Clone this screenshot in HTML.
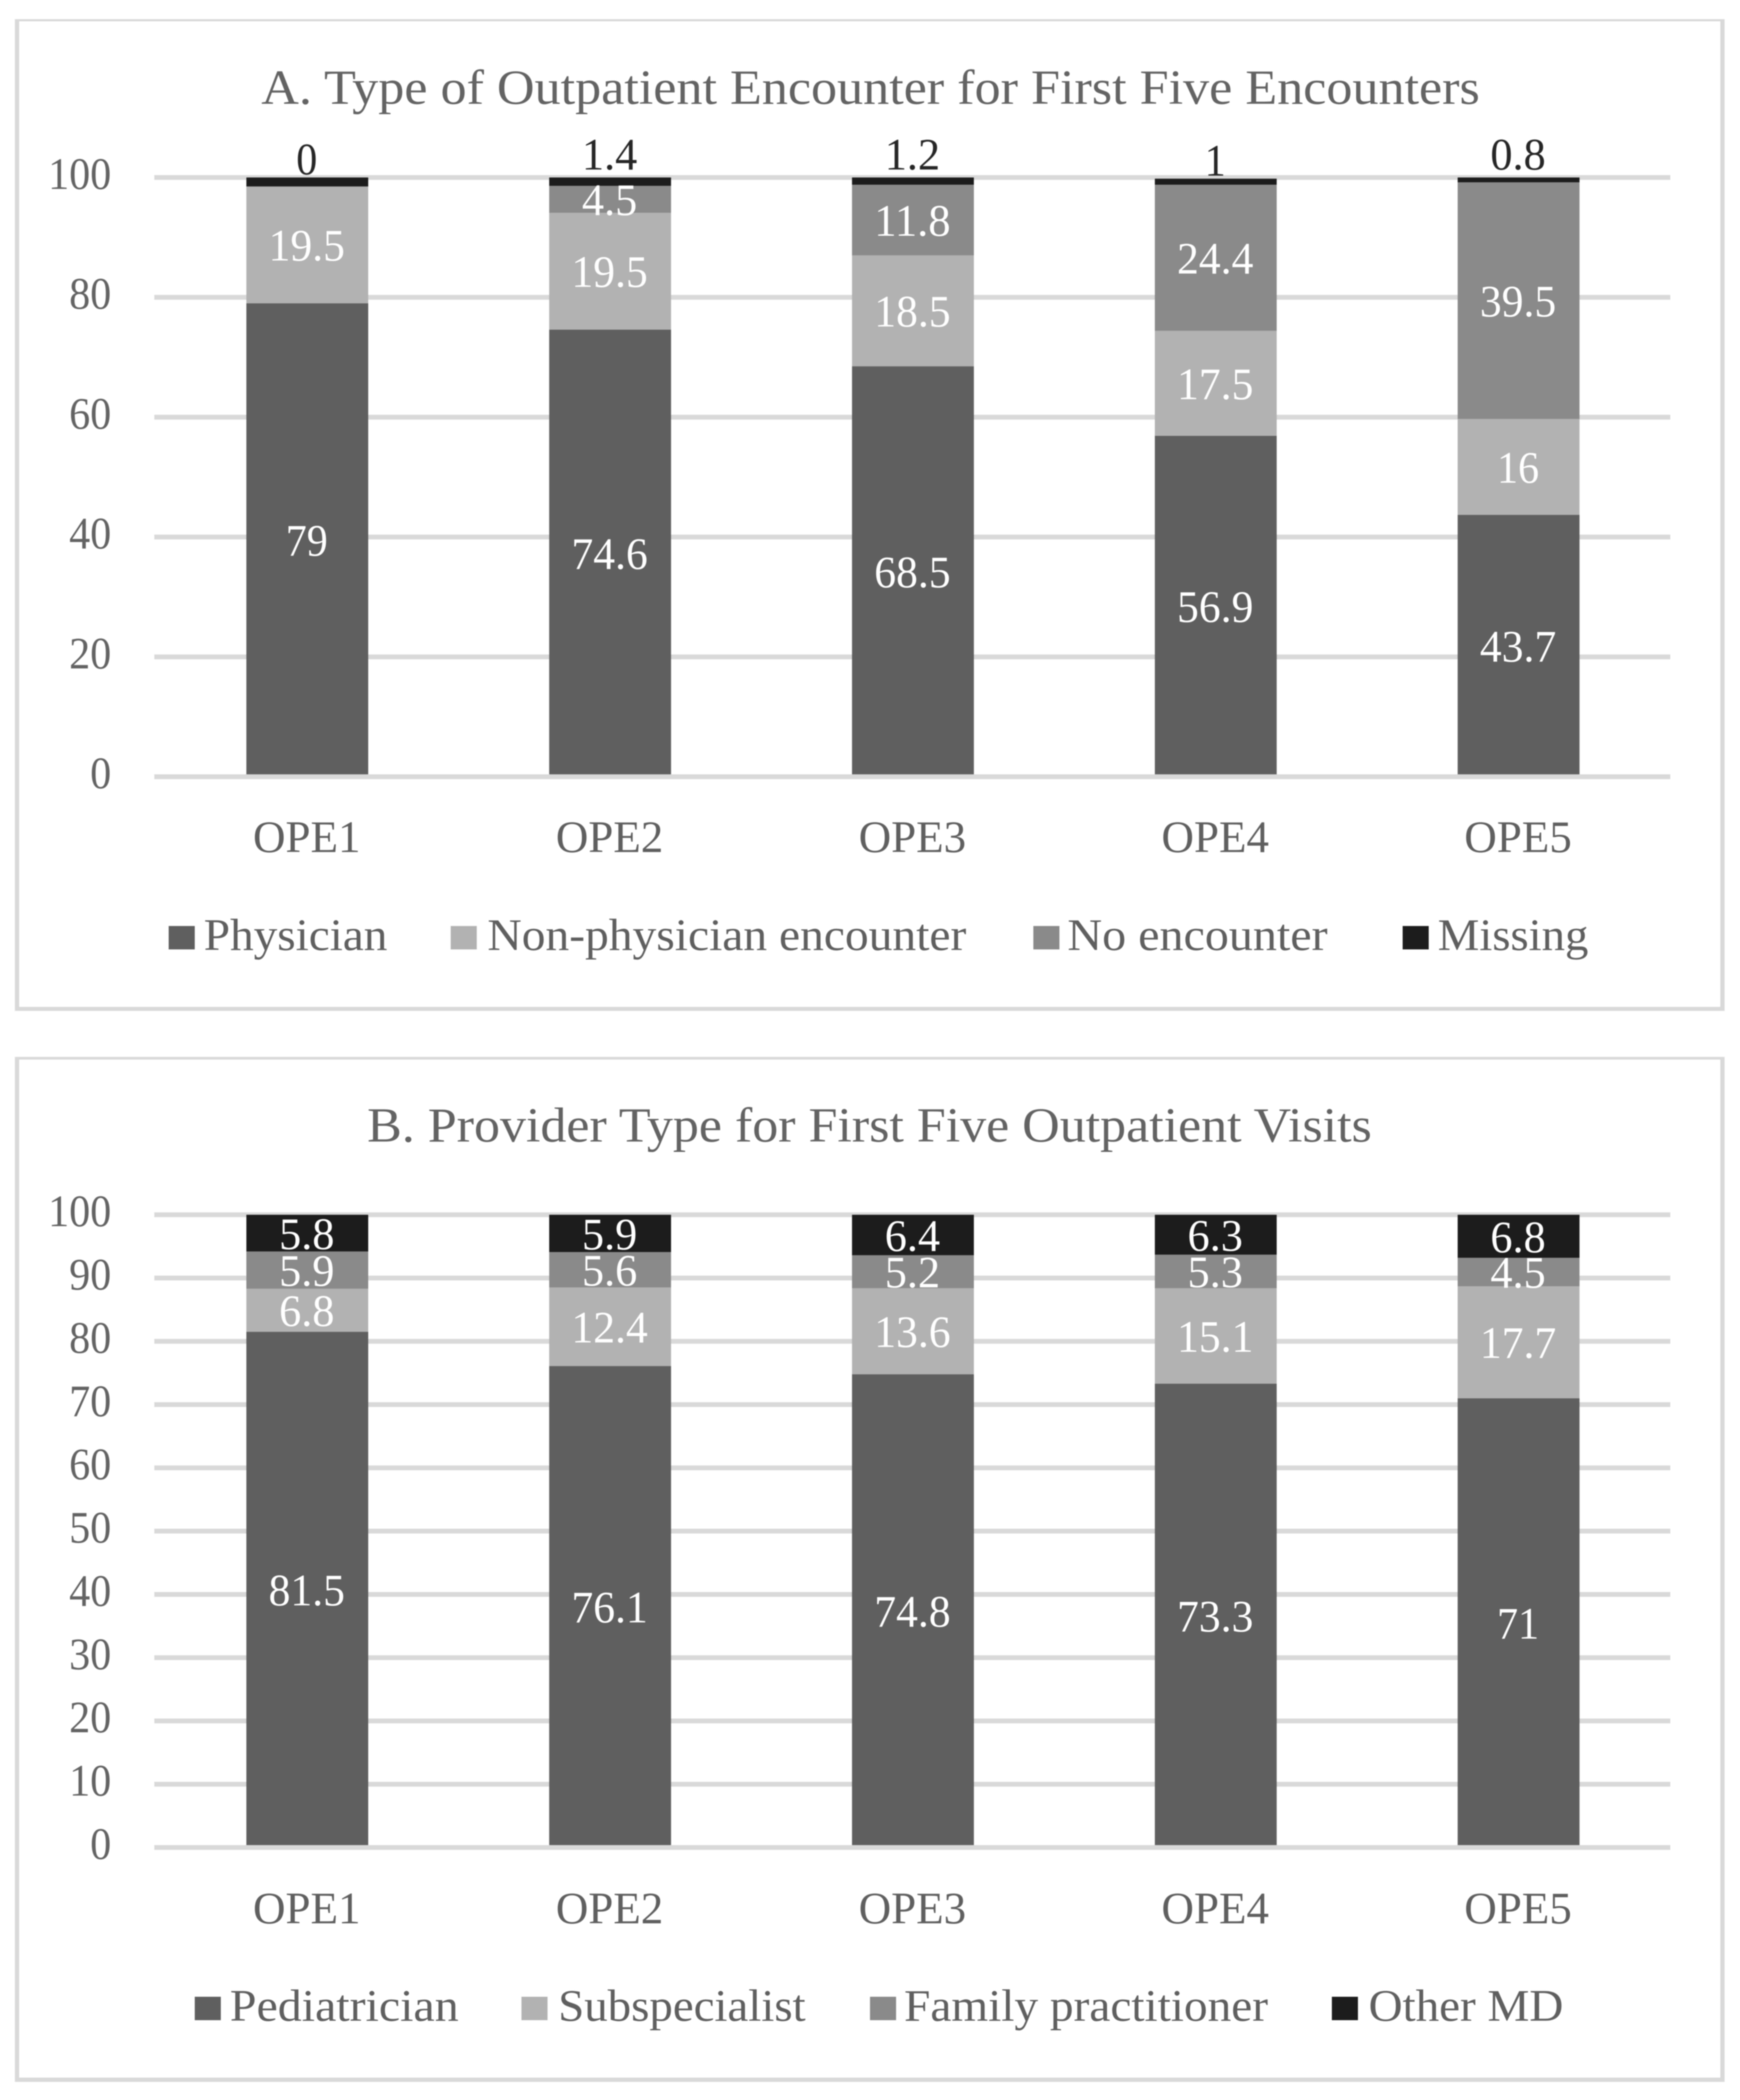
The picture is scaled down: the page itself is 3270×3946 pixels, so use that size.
<!DOCTYPE html>
<html lang="en">
<head>
<meta charset="utf-8">
<title>Outpatient Encounters Charts</title>
<style>
html,body{margin:0;padding:0;background:#fff;width:3270px;height:3946px;overflow:hidden}
svg{display:block;filter:blur(1px)}
text{font-family:"Liberation Serif",serif;font-size:85px;fill:#5f5f5f}
.title{font-size:92px;fill:#636363}
</style>
</head>
<body>
<svg id="root" xmlns="http://www.w3.org/2000/svg" width="3270" height="3946" viewBox="0 0 3270 3946">
  <rect x="0" y="0" width="3270" height="3946" fill="#ffffff"/>
  <g>
    <path fill="#d9d9d9" fill-rule="evenodd" d="M28 36H3241V1899.5H28ZM36 40V1892H3233V40Z"/>
    <text class="title" x="491" y="195" textLength="2290" lengthAdjust="spacingAndGlyphs">A. Type of Outpatient Encounter for First Five Encounters</text>
    <g id="plotA"></g>
    <g>
      <rect x="317" y="1740" width="49" height="44" fill="#5f5f5f"/>
      <text x="383" y="1785" textLength="345" lengthAdjust="spacingAndGlyphs">Physician</text>
      <rect x="847" y="1740" width="49" height="44" fill="#b2b2b2"/>
      <text x="916" y="1785" textLength="900" lengthAdjust="spacingAndGlyphs">Non-physician encounter</text>
      <rect x="1942" y="1740" width="49" height="44" fill="#8a8a8a"/>
      <text x="2006" y="1785" textLength="489" lengthAdjust="spacingAndGlyphs">No encounter</text>
      <rect x="2636" y="1740" width="49" height="44" fill="#1c1c1c"/>
      <text x="2702" y="1785" textLength="283" lengthAdjust="spacingAndGlyphs">Missing</text>
    </g>
  </g>
  <g>
    <path fill="#d9d9d9" fill-rule="evenodd" d="M28 1986H3241V3912H28ZM36 1991V3904H3233V1991Z"/>
    <text class="title" x="690" y="2145" textLength="1888" lengthAdjust="spacingAndGlyphs">B. Provider Type for First Five Outpatient Visits</text>
    <g id="plotB"></g>
    <g>
      <rect x="366" y="3752" width="49" height="44" fill="#5f5f5f"/>
      <text x="432" y="3797" textLength="430" lengthAdjust="spacingAndGlyphs">Pediatrician</text>
      <rect x="980" y="3752" width="49" height="44" fill="#b2b2b2"/>
      <text x="1049" y="3797" textLength="465" lengthAdjust="spacingAndGlyphs">Subspecialist</text>
      <rect x="1635" y="3752" width="49" height="44" fill="#8a8a8a"/>
      <text x="1699" y="3797" textLength="684" lengthAdjust="spacingAndGlyphs">Family practitioner</text>
      <rect x="2503" y="3752" width="49" height="44" fill="#1c1c1c"/>
      <text x="2572" y="3797" textLength="366" lengthAdjust="spacingAndGlyphs">Other MD</text>
    </g>
  </g>
</svg>
<script>
const categories = ['OPE1', 'OPE2', 'OPE3', 'OPE4', 'OPE5'];

const physician = [79, 74.6, 68.5, 56.9, 43.7];
const nonPhysician = [19.5, 19.5, 18.5, 17.5, 16];
const noEncounter = [0, 4.5, 11.8, 24.4, 39.5];
const missing = [1.5, 1.4, 1.2, 1, 0.8];
const missingLabels = ['0', '1.4', '1.2', '1', '0.8'];
const yTicksA = [0, 20, 40, 60, 80, 100];

const pediatrician = [81.5, 76.1, 74.8, 73.3, 71];
const subspecialist = [6.8, 12.4, 13.6, 15.1, 17.7];
const familyPractitioner = [5.9, 5.6, 5.2, 5.3, 4.5];
const otherMD = [5.8, 5.9, 6.4, 6.3, 6.8];
const yTicksB = [0, 10, 20, 30, 40, 50, 60, 70, 80, 90, 100];

const NS = 'http://www.w3.org/2000/svg';
const COLORS = ['#5f5f5f', '#b2b2b2', '#8a8a8a', '#1c1c1c'];
const GRID = '#d9d9d9';
const GRID_LEFT = 290, GRID_RIGHT = 3139, BAR_W = 229;

function xCenter(i) { return 577.5 + i * 569.1; }

function labelWidth(s) {
  let w = 0;
  for (const c of String(s)) w += (c === '.') ? 25 : 39.5;
  return w;
}

function mkRect(parent, x, y, w, h, fill) {
  const r = document.createElementNS(NS, 'rect');
  r.setAttribute('x', x);
  r.setAttribute('y', y);
  r.setAttribute('width', w);
  r.setAttribute('height', h);
  r.setAttribute('fill', fill);
  parent.appendChild(r);
  return r;
}

function mkText(parent, str, x, y, anchor, fill, len) {
  const t = document.createElementNS(NS, 'text');
  t.textContent = str;
  t.setAttribute('x', x);
  t.setAttribute('y', y);
  t.setAttribute('text-anchor', anchor);
  t.style.fill = fill;
  t.setAttribute('textLength', len);
  t.setAttribute('lengthAdjust', 'spacingAndGlyphs');
  parent.appendChild(t);
  return t;
}

function drawChart(plot, prefix, y0, y100, ticks, seriesList, seriesNames, xLabelY) {
  const yOf = v => y0 - (y0 - y100) * v / 100;

  ticks.forEach(tick => {
    if (tick === 0) return;
    const g = mkRect(plot, GRID_LEFT, yOf(tick) - 4.5, GRID_RIGHT - GRID_LEFT, 9, GRID);
    
    
  });

  ticks.forEach(tick => {
    const t = mkText(plot, String(tick), 209, yOf(tick) + 21.5, 'end', '#636363', labelWidth(tick));
    
    
  });

  categories.forEach((cat, i) => {
    let base = 0;
    seriesList.forEach((series, s) => {
      const v = series[i];
      const top = yOf(base + v);
      const bar = mkRect(plot, xCenter(i) - BAR_W / 2, top, BAR_W, yOf(base) - top, COLORS[s]);
      
      
      base += v;
    });

    const lab = mkText(plot, cat, xCenter(i) - 1, xLabelY, 'middle', '#5f5f5f', 202);
    
    
  });

  const axis = mkRect(plot, GRID_LEFT, y0 - 4.5, GRID_RIGHT - GRID_LEFT, 9, GRID);
  
  

  categories.forEach((cat, i) => {
    let base = 0;
    seriesList.forEach((series, s) => {
      const v = series[i];
      const insideLabel = prefix === 'chart-b' || s < 3;
      if (insideLabel && v > 0) {
        const mid = yOf(base + v / 2);
        const offset = (prefix === 'chart-b' && s === 3) ? 30 : 29.5;
        const dl = mkText(plot, String(v), xCenter(i) - 1, mid + offset, 'middle', '#ffffff', labelWidth(v));
        
        
      }
      base += v;
    });
    if (prefix === 'chart-a') {
      const str = missingLabels[i];
      const gap = str.indexOf('.') >= 0 ? 15 : 6;
      const tl = mkText(plot, str, xCenter(i) - 1, yOf(base) - gap, 'middle', '#262626', labelWidth(str));
      
      
    }
  });
}

drawChart(document.getElementById('plotA'), 'chart-a', 1459.5, 333.5, yTicksA,
  [physician, nonPhysician, noEncounter, missing],
  ['physician', 'non-physician', 'no-encounter', 'missing'], 1601);

drawChart(document.getElementById('plotB'), 'chart-b', 3471.5, 2282.6, yTicksB,
  [pediatrician, subspecialist, familyPractitioner, otherMD],
  ['pediatrician', 'subspecialist', 'family-practitioner', 'other-md'], 3614);
</script>
</body>
</html>
